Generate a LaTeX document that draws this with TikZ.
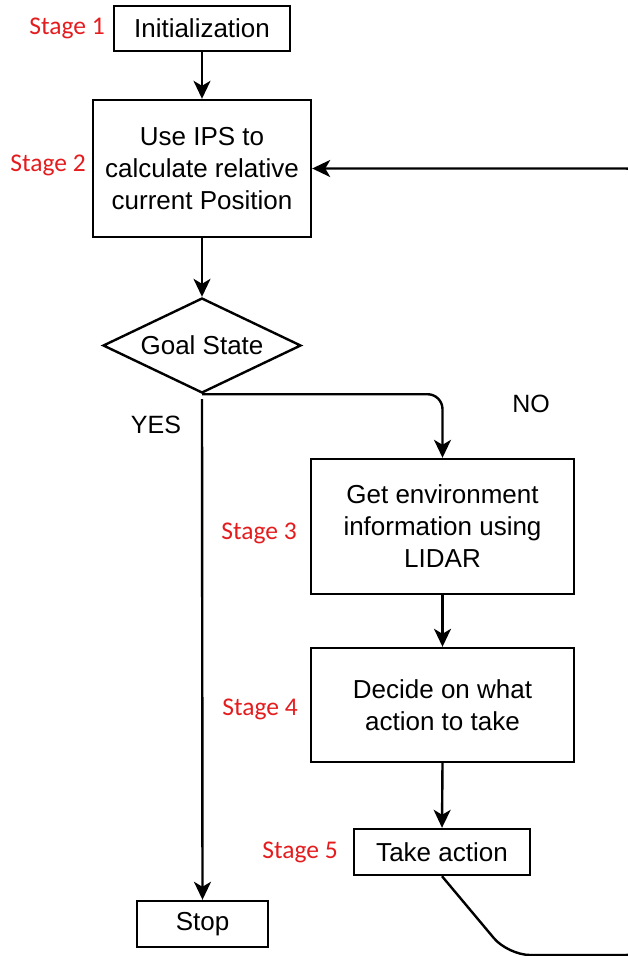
\documentclass[tikz,border=0pt]{standalone}
\usepackage{fontspec}
\setmainfont{Liberation Sans}
\newfontfamily\stagefont{Carlito}
\usetikzlibrary{arrows.meta,shapes.geometric}
\definecolor{stagered}{RGB}{228,28,30}
\begin{document}
\begin{tikzpicture}[x=1pt,y=-1pt,
  box/.style={draw,line width=2.4pt,align=center,inner sep=0pt,
    font=\fontsize{26}{32}\selectfont},
  lbl/.style={font=\fontsize{25}{30}\selectfont,inner sep=0pt},
  stagelbl/.style={text=stagered,anchor=east,inner sep=0pt,
    font=\stagefont\fontsize{25.5}{30}\selectfont},
  flow/.style={line width=2.4pt,-{Stealth[length=18pt,width=17pt,inset=5pt]}}
]
\useasboundingbox (0,0) rectangle (628,956);
\clip (0,0) rectangle (628,956);

\node[box,minimum width=176pt,minimum height=45pt] (init) at (202,28.5) {Initialization};
\node[box,minimum width=218pt,minimum height=137pt] (ips) at (202,168.5)
  {Use IPS to\\calculate relative\\current Position};
\node[draw,diamond,line width=2.4pt,minimum width=198pt,minimum height=95pt,inner sep=0pt,
  label={[font=\fontsize{26}{32}\selectfont]center:Goal State}] (goal) at (202,345.5) {};
\node[box,minimum width=263pt,minimum height=135pt] (env) at (442.5,526.5)
  {Get environment\\information using\\LIDAR};
\node[box,minimum width=263pt,minimum height=114pt] (decide) at (442.5,705)
  {Decide on what\\action to take};
\node[box,minimum width=176pt,minimum height=46pt] (take) at (442,852) {Take action};
\node[box,minimum width=131pt,minimum height=46pt] (stop) at (202.5,924) {Stop};

\node[lbl] (yes) at (156,425) {YES};
\node[lbl] (no) at (531,404) {NO};

\node[stagelbl] (s1) at (105,28) {Stage 1};
\node[stagelbl] (s2) at (86,165) {Stage 2};
\node[stagelbl] (s3) at (297,533) {Stage 3};
\node[stagelbl] (s4) at (298,709) {Stage 4};
\node[stagelbl] (s5) at (338,852) {Stage 5};

\draw[flow] (init.south) -- (ips.north);
\draw[flow] (ips.south) -- (goal.north);
\draw[flow,rounded corners=15pt] (goal.south) -| (env.north);
\draw[flow] ([yshift=-5pt]goal.south) -- (stop.north);
\draw[flow] (env.south) -- (decide.north);
\draw[flow] (decide.south) -- (take.north);
\coordinate (bend) at (508,955);
\coordinate (far) at (648,955);
\draw[flow,rounded corners=22pt] (take.south) -- (bend) -- (far) |- (ips.east);
\end{tikzpicture}
\end{document}
